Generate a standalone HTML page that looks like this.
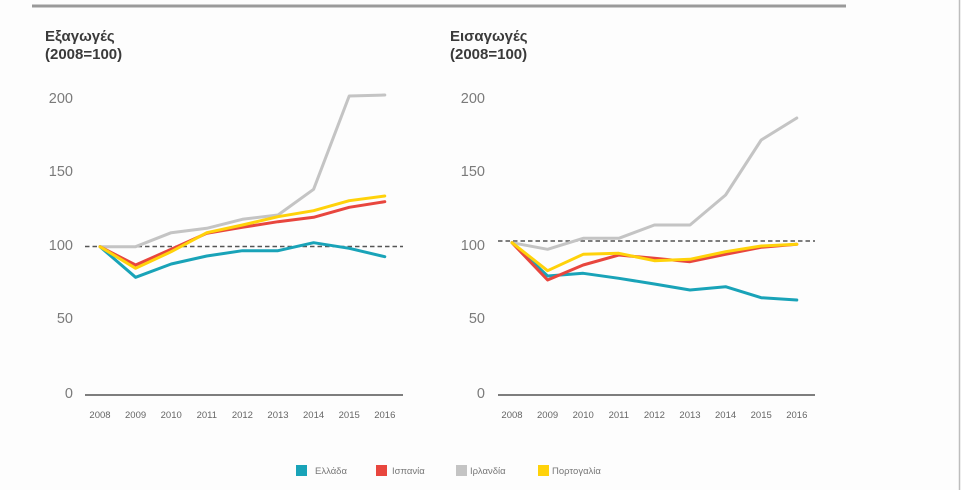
<!DOCTYPE html>
<html><head><meta charset="utf-8"><style>
html,body{margin:0;padding:0;background:#fdfdfd;}
svg{display:block;}
</style></head><body>
<svg width="964" height="490" viewBox="0 0 964 490" xmlns="http://www.w3.org/2000/svg" font-family="'Liberation Sans', 'DejaVu Sans', sans-serif">
<rect x="0" y="0" width="964" height="490" fill="#fdfdfd"/>
<rect x="960" y="0" width="4" height="490" fill="#ffffff"/>
<line x1="959.5" y1="0" x2="959.5" y2="490" stroke="#bdbdbd" stroke-width="1.5"/>
<line x1="32" y1="6" x2="846" y2="6" stroke="#9a9a9a" stroke-width="3"/>

<!-- Left titles -->
<text x="45" y="41" font-size="15" font-weight="bold" fill="#3a3a3a">Εξαγωγές</text>
<text x="45" y="59" font-size="15" font-weight="bold" fill="#3a3a3a">(2008=100)</text>
<!-- Right titles -->
<text x="450" y="41" font-size="15" font-weight="bold" fill="#3a3a3a">Εισαγωγές</text>
<text x="450" y="59" font-size="15" font-weight="bold" fill="#3a3a3a">(2008=100)</text>

<!-- Left y labels -->
<g font-size="14.5" fill="#7a7a7a" text-anchor="end">
<text x="73" y="103">200</text>
<text x="73" y="176">150</text>
<text x="73" y="250">100</text>
<text x="73" y="323">50</text>
<text x="73" y="398">0</text>
</g>
<!-- Right y labels -->
<g font-size="14.5" fill="#7a7a7a" text-anchor="end">
<text x="485" y="103">200</text>
<text x="485" y="176">150</text>
<text x="485" y="250">100</text>
<text x="485" y="323">50</text>
<text x="485" y="398">0</text>
</g>

<!-- Left axis -->
<line x1="85" y1="395" x2="403" y2="395" stroke="#555" stroke-width="1.5"/>
<line x1="85" y1="246.5" x2="403" y2="246.5" stroke="#555" stroke-width="1.6" stroke-dasharray="4.5,3"/>
<g font-size="9.5" fill="#666" text-anchor="middle">
<text x="100" y="418">2008</text>
<text x="135.6" y="418">2009</text>
<text x="171.2" y="418">2010</text>
<text x="206.8" y="418">2011</text>
<text x="242.4" y="418">2012</text>
<text x="278" y="418">2013</text>
<text x="313.6" y="418">2014</text>
<text x="349.2" y="418">2015</text>
<text x="384.8" y="418">2016</text>
</g>

<!-- Right axis -->
<line x1="498" y1="395" x2="815" y2="395" stroke="#555" stroke-width="1.5"/>
<line x1="498" y1="241" x2="815" y2="241" stroke="#555" stroke-width="1.6" stroke-dasharray="4.5,3"/>
<g font-size="9.5" fill="#666" text-anchor="middle">
<text x="512" y="418">2008</text>
<text x="547.6" y="418">2009</text>
<text x="583.2" y="418">2010</text>
<text x="618.8" y="418">2011</text>
<text x="654.4" y="418">2012</text>
<text x="690" y="418">2013</text>
<text x="725.6" y="418">2014</text>
<text x="761.2" y="418">2015</text>
<text x="796.8" y="418">2016</text>
</g>

<!-- Left series -->
<g fill="none" stroke-width="3" stroke-linejoin="round" stroke-linecap="round">
<polyline stroke="#c4c4c4" points="100,246.7 135.6,246.7 171.2,232.7 206.8,228.3 242.4,219.3 278,215 313.6,189.3 349.2,96 384.8,95"/>
<polyline stroke="#19a3b8" points="100,246.7 135.6,277.3 171.2,264 206.8,256 242.4,250.7 278,250.7 313.6,242.7 349.2,248.3 384.8,256.7"/>
<polyline stroke="#e8463e" points="100,246.7 135.6,265 171.2,249.3 206.8,233.3 242.4,227.3 278,221.7 313.6,217.3 349.2,207.3 384.8,201.7"/>
<polyline stroke="#ffd20a" points="100,246.7 135.6,268.3 171.2,251.7 206.8,232.7 242.4,225 278,216.7 313.6,210.7 349.2,200.7 384.8,196"/>
</g>

<!-- Right series -->
<g fill="none" stroke-width="3" stroke-linejoin="round" stroke-linecap="round">
<polyline stroke="#c4c4c4" points="512,242.7 547.6,249.3 583.2,238.3 618.8,238.3 654.4,225 690,225 725.6,195 761.2,140 796.8,118"/>
<polyline stroke="#19a3b8" points="512,242.7 547.6,276 583.2,273.3 618.8,278.3 654.4,284 690,290 725.6,286.7 761.2,297.7 796.8,300"/>
<polyline stroke="#e8463e" points="512,242.7 547.6,280 583.2,265 618.8,255 654.4,258.3 690,261.7 725.6,254.3 761.2,247.3 796.8,244.3"/>
<polyline stroke="#ffd20a" points="512,242.7 547.6,270.7 583.2,254.3 618.8,253.3 654.4,260.7 690,259.3 725.6,251.7 761.2,246 796.8,244.3"/>
</g>

<!-- Legend -->
<rect x="296" y="465" width="11" height="11" fill="#19a3b8"/>
<text x="315" y="474" font-size="9.5" fill="#777">Ελλάδα</text>
<rect x="376" y="465" width="11" height="11" fill="#e8463e"/>
<text x="392" y="474" font-size="9.5" fill="#777">Ισπανία</text>
<rect x="456" y="465" width="11" height="11" fill="#c4c4c4"/>
<text x="470" y="474" font-size="9.5" fill="#777">Ιρλανδία</text>
<rect x="538" y="465" width="11" height="11" fill="#ffd20a"/>
<text x="552" y="474" font-size="9.5" fill="#777">Πορτογαλία</text>
</svg>
</body></html>
